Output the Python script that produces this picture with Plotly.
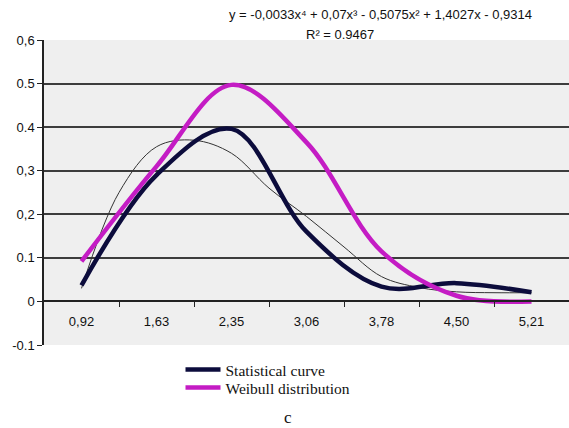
import plotly.graph_objects as go

categories = ["0,92", "1,63", "2,35", "3,06", "3,78", "4,50", "5,21"]
statistical = [0.037, 0.29, 0.396, 0.16, 0.034, 0.042, 0.021]
weibull = [0.092, 0.31, 0.497, 0.365, 0.115, 0.013, 0.0]
# thin polynomial trend line at half-category steps
trend_pos = [0, 0.5, 1, 1.5, 2, 2.5, 3, 3.5, 4, 4.5, 5, 5.5, 6]
trend_val = [0.03, 0.25, 0.355, 0.37, 0.34, 0.26, 0.195, 0.125, 0.057, 0.032, 0.022, 0.02, 0.02]
y_ticks = [-0.1, 0, 0.1, 0.2, 0.3, 0.4, 0.5, 0.6]
y_ticktext = ["-0.1", "0", "0.1", "0,2", "0,3", "0.4", "0.5", "0,6"]
equation = "y = -0,0033x⁴ + 0,07x³ - 0,5075x² + 1,4027x - 0,9314"
r2_text = "R² = 0.9467"

idx = list(range(len(categories)))
navy = "#0c0c3c"
magenta = "#c41cc4"

fig = go.Figure()
fig.add_trace(go.Scatter(x=trend_pos, y=trend_val, mode="lines",
                         line=dict(color="#333333", width=1, shape="spline"),
                         showlegend=False, hoverinfo="skip"))
fig.add_trace(go.Scatter(x=idx, y=statistical, mode="lines", name="Statistical curve",
                         line=dict(color=navy, width=4.5, shape="spline", smoothing=1.0),
                         legend="legend"))
fig.add_trace(go.Scatter(x=idx, y=weibull, mode="lines", name="Weibull distribution",
                         line=dict(color=magenta, width=4.5, shape="spline", smoothing=1.0),
                         legend="legend2"))
# dummy trace for the tick-mark axis
fig.add_trace(go.Scatter(x=[0.5], y=[None], xaxis="x2", showlegend=False, hoverinfo="skip"))

pw, ph = 569 - 44, 428 - 40 - 83


def px_x(v):
    return (v - 44) / pw


def px_y(v):
    return (345 - v) / ph


zero_pos = 0.1 / 0.7
legend_font = dict(family="Liberation Serif, Times New Roman", size=15.5, color="#111111")
fig.update_layout(
    width=569, height=428,
    margin=dict(l=44, r=0, t=40, b=83),
    paper_bgcolor="white",
    plot_bgcolor="#efefef",
    font=dict(family="Liberation Sans, Arial", size=13, color="#111111"),
    xaxis=dict(range=[-0.5, 6.5], tickmode="array", tickvals=idx, ticktext=categories,
               showgrid=False, zeroline=False, showline=True, linecolor="#222222", linewidth=1.5,
               anchor="free", position=zero_pos, ticks="", ticklabelstandoff=8,
               tickfont=dict(size=13, color="#111111")),
    xaxis2=dict(range=[-0.5, 6.5], overlaying="x", anchor="free", position=zero_pos,
                tickmode="array", tickvals=[0.5, 1.5, 2.5, 3.5, 4.5, 5.5], showticklabels=False,
                ticks="outside", ticklen=5, tickcolor="#222222", tickwidth=1.2,
                showgrid=False, zeroline=False, showline=False),
    yaxis=dict(range=[-0.1, 0.6], tickmode="array", tickvals=y_ticks, ticktext=y_ticktext,
               showgrid=True, gridcolor="#3c3c3c", gridwidth=1.5, zeroline=False,
               showline=True, linecolor="#222222", linewidth=1.5, ticks="outside", ticklen=5,
               tickcolor="#222222", tickfont=dict(size=13, color="#111111")),
    legend=dict(x=0.26, y=px_y(370), xanchor="left", yanchor="middle", bgcolor="rgba(0,0,0,0)",
                font=legend_font, itemwidth=35),
    legend2=dict(x=0.26, y=px_y(388), xanchor="left", yanchor="middle", bgcolor="rgba(0,0,0,0)",
                 font=legend_font, itemwidth=35),
    annotations=[
        dict(text=equation, x=px_x(380), y=px_y(15), xref="paper", yref="paper", showarrow=False,
             xanchor="center", yanchor="middle", font=dict(size=13, color="#111111")),
        dict(text=r2_text, x=px_x(340), y=px_y(35), xref="paper", yref="paper", showarrow=False,
             xanchor="center", yanchor="middle", font=dict(size=13, color="#111111")),
        dict(text="c", x=px_x(288), y=px_y(417), xref="paper", yref="paper", showarrow=False,
             xanchor="center", yanchor="middle",
             font=dict(family="Liberation Serif, Times New Roman", size=17, color="#111111")),
    ],
)

fig.write_html("out.html")
